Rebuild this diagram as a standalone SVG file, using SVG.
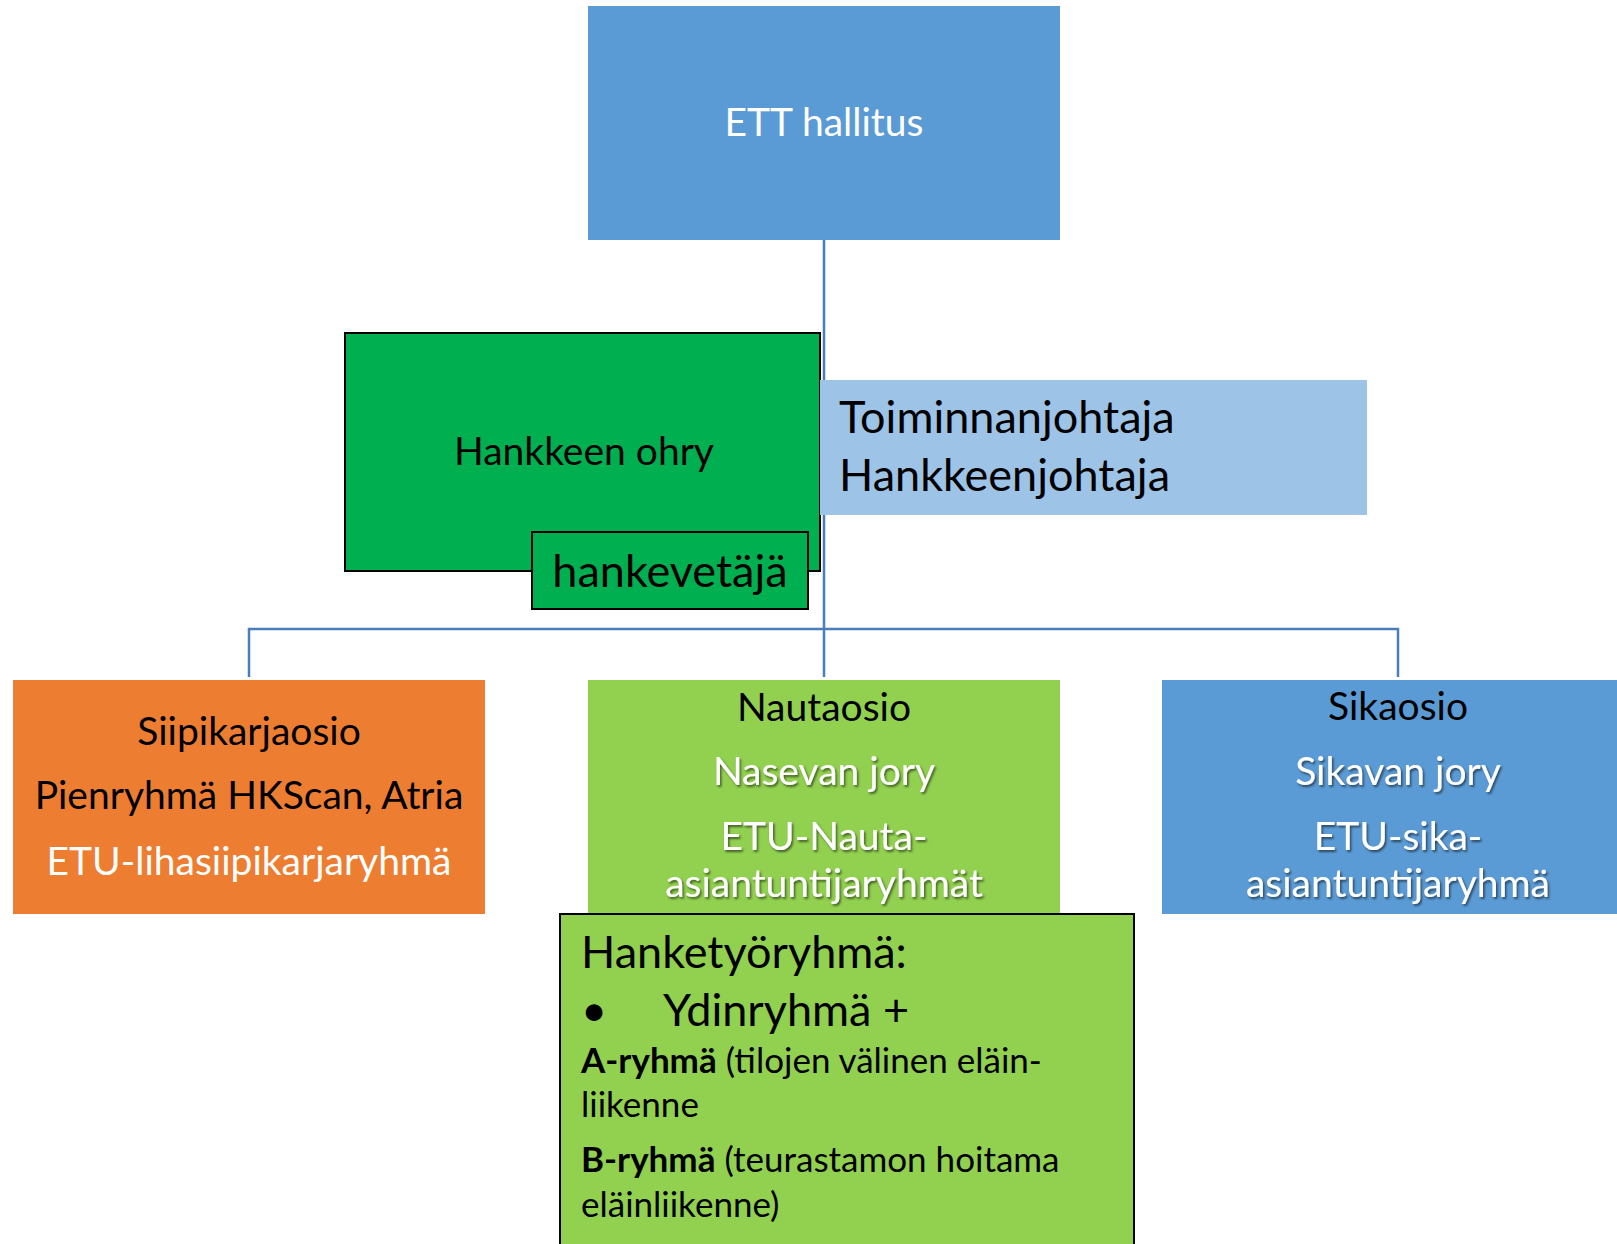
<svg xmlns="http://www.w3.org/2000/svg" width="1617" height="1244" viewBox="0 0 1617 1244">
<defs>
<filter id="sh" x="-10%" y="-30%" width="130%" height="170%">
<feDropShadow dx="1.5" dy="2" stdDeviation="1.2" flood-color="#000" flood-opacity="0.55"/>
</filter>
</defs>
<style>
text{font-family:Lato,"Open Sans","Liberation Sans",sans-serif;}
.c{text-anchor:middle;}
.w{fill:#fff;}
.k{fill:#000;}
.conn{stroke:#4A7EBB;stroke-width:2.5;fill:none;}
.bd{stroke:#000;stroke-width:2;}
</style>
<g id="connectors">
<path class="conn" d="M824 240 V677"/>
<path class="conn" d="M249 677 V629 H1398 V677"/>
</g>
<g id="ett">
<rect x="588" y="6" width="472" height="234" fill="#5B9BD5"/>
<text class="c w" x="824" y="136" font-size="39">ETT hallitus</text>
</g>
<g id="ohry">
<rect class="bd" x="345" y="333" width="475" height="238" fill="#00B050"/>
<text class="c k" x="584" y="465" font-size="39">Hankkeen ohry</text>
</g>
<g id="hankevetaja">
<rect class="bd" x="532" y="532" width="276" height="77" fill="#00B050"/>
<text class="c k" x="670" y="587" font-size="45">hankevetäjä</text>
</g>
<g id="johtaja">
<rect x="820" y="380" width="547" height="135" fill="#9DC3E6"/>
<text class="k" x="839" y="433" font-size="45">Toiminnanjohtaja</text>
<text class="k" x="839" y="491" font-size="45">Hankkeenjohtaja</text>
</g>
<g id="siipikarja">
<rect x="13" y="680" width="472" height="234" fill="#ED7D31"/>
<text class="c k" x="249" y="745" font-size="39">Siipikarjaosio</text>
<text class="c k" x="249" y="809" font-size="39">Pienryhmä HKScan, Atria</text>
<text class="c w" x="249" y="875" font-size="39">ETU-lihasiipikarjaryhmä</text>
</g>
<g id="nauta">
<rect x="588" y="680" width="472" height="234" fill="#92D050"/>
<text class="c k" x="824" y="721" font-size="39">Nautaosio</text>
<text class="c w" x="824" y="785" font-size="39" filter="url(#sh)">Nasevan jory</text>
<text class="c w" x="824" y="850" font-size="39" filter="url(#sh)">ETU-Nauta-</text>
<text class="c w" x="824" y="897" font-size="39" filter="url(#sh)">asiantuntijaryhmät</text>
</g>
<g id="sika">
<rect x="1162" y="680" width="455" height="234" fill="#5B9BD5"/>
<text class="c k" x="1398" y="720" font-size="39">Sikaosio</text>
<text class="c w" x="1398" y="785" font-size="39" filter="url(#sh)">Sikavan jory</text>
<text class="c w" x="1398" y="850" font-size="39" filter="url(#sh)">ETU-sika-</text>
<text class="c w" x="1398" y="897" font-size="39" filter="url(#sh)">asiantuntijaryhmä</text>
</g>
<g id="hanketyoryhma">
<rect class="bd" x="560" y="914" width="574" height="335" fill="#92D050"/>
<text class="k" x="581" y="968" font-size="45">Hanketyöryhmä:</text>
<text class="k" x="581" y="1026" font-size="45">•</text>
<text class="k" x="663" y="1026" font-size="45">Ydinryhmä +</text>
<text class="k" x="581" y="1073" font-size="35"><tspan font-weight="bold">A-ryhmä</tspan> (tilojen välinen eläin-</text>
<text class="k" x="581" y="1117" font-size="35">liikenne</text>
<text class="k" x="581" y="1172" font-size="35"><tspan font-weight="bold">B-ryhmä</tspan> (teurastamon hoitama</text>
<text class="k" x="581" y="1217" font-size="35">eläinliikenne)</text>
</g>
</svg>
